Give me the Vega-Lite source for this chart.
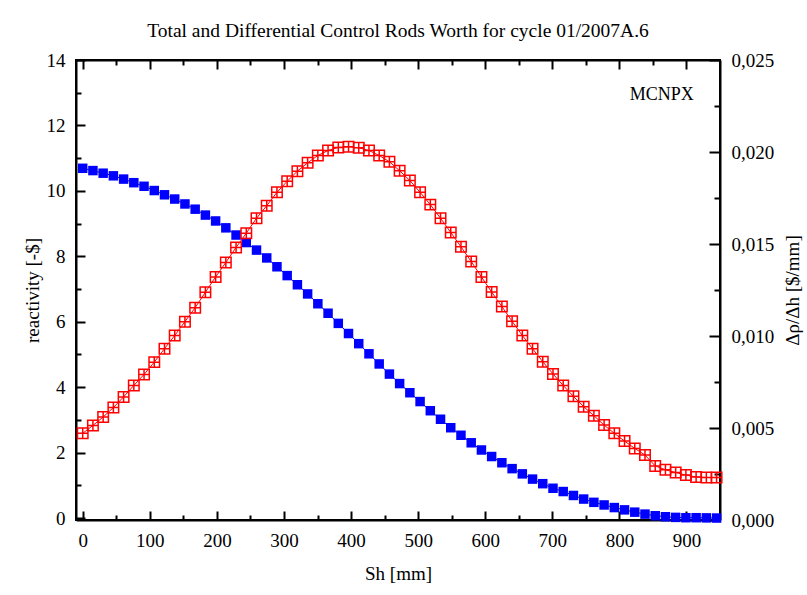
{
  "$schema": "https://vega.github.io/schema/vega-lite/v6.json",
  "width": 644,
  "height": 460,
  "autosize": "none",
  "padding": {"left": 76, "top": 60, "right": 87, "bottom": 75},
  "background": "white",
  "title": {"text": "Total and Differential Control Rods Worth for cycle 01/2007A.6", "font": "Liberation Serif", "fontSize": 19.5, "fontWeight": "normal", "color": "black", "anchor": "middle", "frame": "group", "offset": 10},
  "config": {
    "view": {"stroke": "black", "strokeWidth": 2},
    "axis": {"labelFont": "Liberation Serif", "titleFont": "Liberation Serif", "labelFontSize": 19, "titleFontSize": 19, "titleFontWeight": "normal", "labelColor": "black", "titleColor": "black", "domainColor": "black", "domainWidth": 2, "ticks": true, "tickColor": "black", "tickWidth": 2, "grid": false, "labelOverlap": false, "labelFlush": false}
  },
  "data": {"values": [
    {"sh": 0, "reactivity": 10.69, "diff": 0.00471},
    {"sh": 15.24, "reactivity": 10.62, "diff": 0.00514},
    {"sh": 30.48, "reactivity": 10.54, "diff": 0.0056},
    {"sh": 45.72, "reactivity": 10.46, "diff": 0.00611},
    {"sh": 60.96, "reactivity": 10.36, "diff": 0.00669},
    {"sh": 76.2, "reactivity": 10.25, "diff": 0.00731},
    {"sh": 91.44, "reactivity": 10.14, "diff": 0.00791},
    {"sh": 106.68, "reactivity": 10.01, "diff": 0.00858},
    {"sh": 121.92, "reactivity": 9.88, "diff": 0.00931},
    {"sh": 137.16, "reactivity": 9.75, "diff": 0.01003},
    {"sh": 152.4, "reactivity": 9.6, "diff": 0.01078},
    {"sh": 167.64, "reactivity": 9.44, "diff": 0.01154},
    {"sh": 182.88, "reactivity": 9.26, "diff": 0.01238},
    {"sh": 198.12, "reactivity": 9.08, "diff": 0.01321},
    {"sh": 213.36, "reactivity": 8.87, "diff": 0.014},
    {"sh": 228.6, "reactivity": 8.65, "diff": 0.01481},
    {"sh": 243.84, "reactivity": 8.42, "diff": 0.01559},
    {"sh": 259.08, "reactivity": 8.19, "diff": 0.0164},
    {"sh": 274.32, "reactivity": 7.95, "diff": 0.01708},
    {"sh": 289.56, "reactivity": 7.68, "diff": 0.01781},
    {"sh": 304.8, "reactivity": 7.41, "diff": 0.01841},
    {"sh": 320.04, "reactivity": 7.13, "diff": 0.01896},
    {"sh": 335.28, "reactivity": 6.85, "diff": 0.01941},
    {"sh": 350.52, "reactivity": 6.55, "diff": 0.01981},
    {"sh": 365.76, "reactivity": 6.26, "diff": 0.02008},
    {"sh": 381, "reactivity": 5.95, "diff": 0.02025},
    {"sh": 396.24, "reactivity": 5.64, "diff": 0.02028},
    {"sh": 411.48, "reactivity": 5.33, "diff": 0.02023},
    {"sh": 426.72, "reactivity": 5.02, "diff": 0.02008},
    {"sh": 441.96, "reactivity": 4.71, "diff": 0.01981},
    {"sh": 457.2, "reactivity": 4.4, "diff": 0.01947},
    {"sh": 472.44, "reactivity": 4.11, "diff": 0.01898},
    {"sh": 487.68, "reactivity": 3.83, "diff": 0.01845},
    {"sh": 502.92, "reactivity": 3.56, "diff": 0.01781},
    {"sh": 518.16, "reactivity": 3.28, "diff": 0.01714},
    {"sh": 533.4, "reactivity": 3.02, "diff": 0.0164},
    {"sh": 548.64, "reactivity": 2.76, "diff": 0.01563},
    {"sh": 563.88, "reactivity": 2.53, "diff": 0.01485},
    {"sh": 579.12, "reactivity": 2.3, "diff": 0.01405},
    {"sh": 594.36, "reactivity": 2.08, "diff": 0.01321},
    {"sh": 609.6, "reactivity": 1.88, "diff": 0.01239},
    {"sh": 624.84, "reactivity": 1.69, "diff": 0.0116},
    {"sh": 640.08, "reactivity": 1.51, "diff": 0.0108},
    {"sh": 655.32, "reactivity": 1.35, "diff": 0.01003},
    {"sh": 670.56, "reactivity": 1.19, "diff": 0.00931},
    {"sh": 685.8, "reactivity": 1.05, "diff": 0.0086},
    {"sh": 701.04, "reactivity": 0.91, "diff": 0.00794},
    {"sh": 716.28, "reactivity": 0.81, "diff": 0.00731},
    {"sh": 731.52, "reactivity": 0.69, "diff": 0.00672},
    {"sh": 746.76, "reactivity": 0.58, "diff": 0.00616},
    {"sh": 762, "reactivity": 0.48, "diff": 0.00567},
    {"sh": 777.24, "reactivity": 0.4, "diff": 0.00516},
    {"sh": 792.48, "reactivity": 0.32, "diff": 0.00471},
    {"sh": 807.72, "reactivity": 0.25, "diff": 0.00429},
    {"sh": 822.96, "reactivity": 0.18, "diff": 0.00389},
    {"sh": 838.2, "reactivity": 0.12, "diff": 0.00353},
    {"sh": 853.44, "reactivity": 0.07, "diff": 0.00294},
    {"sh": 868.68, "reactivity": 0.04, "diff": 0.00273},
    {"sh": 883.92, "reactivity": 0.02, "diff": 0.00258},
    {"sh": 899.16, "reactivity": 0.01, "diff": 0.00244},
    {"sh": 914.4, "reactivity": 0.01, "diff": 0.00234},
    {"sh": 929.64, "reactivity": 0.005, "diff": 0.00231},
    {"sh": 944.88, "reactivity": 0.0, "diff": 0.00231}
  ]},
  "layer": [
    {
      "encoding": {
        "x": {"field": "sh", "type": "quantitative", "scale": {"domain": [-10, 950], "nice": false, "zero": false},
          "axis": {"orient": "bottom", "title": "Sh [mm]", "ticks": true, "values": [0, 50, 100, 150, 200, 250, 300, 350, 400, 450, 500, 550, 600, 650, 700, 750, 800, 850, 900],
            "labelExpr": "datum.value % 100 === 0 ? datum.label : ''",
            "tickSize": {"condition": {"test": "datum.value % 100 === 0", "value": -9}, "value": -5},
            "labelPadding": 20, "titlePadding": 10}},
        "y": {"field": "reactivity", "type": "quantitative", "scale": {"domain": [-0.06, 14], "nice": false, "zero": false},
          "axis": {"orient": "left", "title": "reactivity [-$]", "ticks": true, "values": [0, 1, 2, 3, 4, 5, 6, 7, 8, 9, 10, 11, 12, 13, 14],
            "labelExpr": "datum.value % 2 === 0 ? datum.label : ''",
            "tickSize": {"condition": {"test": "datum.value % 2 === 0", "value": -9}, "value": -5},
            "labelPadding": 20, "titlePadding": 4}}
      },
      "layer": [
        {"mark": {"type": "line", "color": "#0000FF", "strokeWidth": 1}},
        {"mark": {"type": "point", "shape": "square", "filled": true, "color": "#0000FF", "opacity": 1, "size": 90}},
        {"data": {"values": [{"sh": 911, "reactivity": 12.93, "label": "MCNPX"}]},
         "mark": {"type": "text", "font": "Liberation Serif", "fontSize": 18, "color": "black", "align": "right", "baseline": "middle"},
         "encoding": {"text": {"field": "label"}}}
      ]
    },
    {
      "encoding": {
        "x": {"field": "sh", "type": "quantitative", "scale": {"domain": [-10, 950], "nice": false, "zero": false},
          "axis": {"orient": "top", "title": null, "ticks": true, "values": [0, 50, 100, 150, 200, 250, 300, 350, 400, 450, 500, 550, 600, 650, 700, 750, 800, 850, 900],
            "labels": false,
            "tickSize": {"condition": {"test": "datum.value % 100 === 0", "value": -9}, "value": -5}}},
        "y": {"field": "diff", "type": "quantitative", "scale": {"domain": [0, 0.025], "nice": false, "zero": false},
          "axis": {"orient": "right", "title": "Δρ/Δh [$/mm]", "ticks": true, "titleAngle": -90, "titleBaseline": "top", "values": [0, 0.0025, 0.005, 0.0075, 0.01, 0.0125, 0.015, 0.0175, 0.02, 0.0225, 0.025],
            "labelExpr": "abs(datum.value*200 - round(datum.value*200)) < 0.000001 ? replace(format(datum.value, '.3f'), '.', ',') : ''",
            "tickSize": {"condition": {"test": "abs(datum.value*200 - round(datum.value*200)) < 0.000001", "value": -11}, "value": -6},
            "labelPadding": 22, "titlePadding": 10}}
      },
      "layer": [
        {"mark": {"type": "line", "color": "#FF0000", "strokeWidth": 1}},
        {"mark": {"type": "point", "shape": "M-1,-1L1,-1L1,1L-1,1Z M0,-1L0,1 M-1,0L1,0", "filled": false, "color": "#FF0000", "strokeWidth": 1.5, "opacity": 1, "size": 110}}
      ]
    }
  ],
  "resolve": {"scale": {"y": "independent"}, "axis": {"x": "independent"}}
}
